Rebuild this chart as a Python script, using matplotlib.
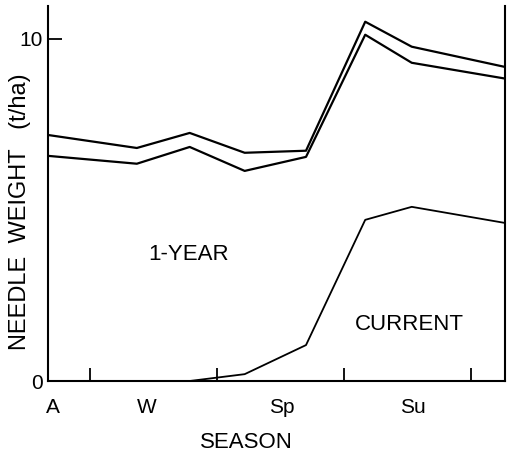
import numpy as np
import matplotlib
matplotlib.use('Agg')
import matplotlib.pyplot as plt

plt.rcParams['font.family'] = ['Liberation Sans', 'DejaVu Sans']

# months from the start of autumn
months = [0, 2.1, 3.35, 4.65, 6.1, 7.5, 8.6, 10.8]
total = [7.19, 6.81, 7.25, 6.67, 6.73, 10.5, 9.77, 9.18]
one_year = [6.58, 6.35, 6.84, 6.14, 6.55, 10.12, 9.30, 8.84]
current = [0, 0, 0, 0.2, 1.05, 4.71, 5.09, 4.62]

season_pos = [0.12, 2.34, 5.53, 8.63]
season_labels = ['A', 'W', 'Sp', 'Su']
season_bounds = [1, 4, 7, 10]

fig = plt.figure(figsize=(5.13, 4.57), dpi=100)
ax = fig.add_axes([0.0936, 0.1663, 0.8904, 0.8206])

ax.plot(months, total, color='black', lw=1.6)
ax.plot(months, one_year, color='black', lw=1.6)
ax.plot(months, current, color='black', lw=1.3)

ax.set_xlim(0, 10.8)
ax.set_ylim(0, 10.96)

for s in ['left', 'right', 'bottom']:
    ax.spines[s].set_linewidth(1.5)
ax.spines['top'].set_visible(False)

ax.set_xticks(season_bounds)
ax.set_xticklabels([])
ax.tick_params(axis='x', which='major', direction='in', length=9.5, width=1.3)
ax.set_xticks(season_pos, minor=True)
ax.set_xticklabels(season_labels, minor=True, fontsize=15)
ax.tick_params(axis='x', which='minor', length=0, pad=12)

ax.set_yticks([0, 10])
ax.set_yticklabels(['0', '10'], fontsize=15)
ax.tick_params(axis='y', direction='in', length=10, width=1.3, pad=4)

ax.text(189 / 513, 1 - 255 / 457, '1-YEAR', fontsize=16, ha='center',
        va='center', transform=fig.transFigure)
ax.text(409 / 513, 1 - 324 / 457, 'CURRENT', fontsize=16, ha='center',
        va='center', transform=fig.transFigure)

fig.text(246 / 513, 1 - 442 / 457, 'SEASON', fontsize=16, ha='center',
         va='center')
fig.text(20 / 513, 1 - 212 / 457, 'NEEDLE  WEIGHT   (t/ha)', fontsize=17,
         rotation=90, ha='center', va='center')

fig.savefig('out.png', dpi=100)
